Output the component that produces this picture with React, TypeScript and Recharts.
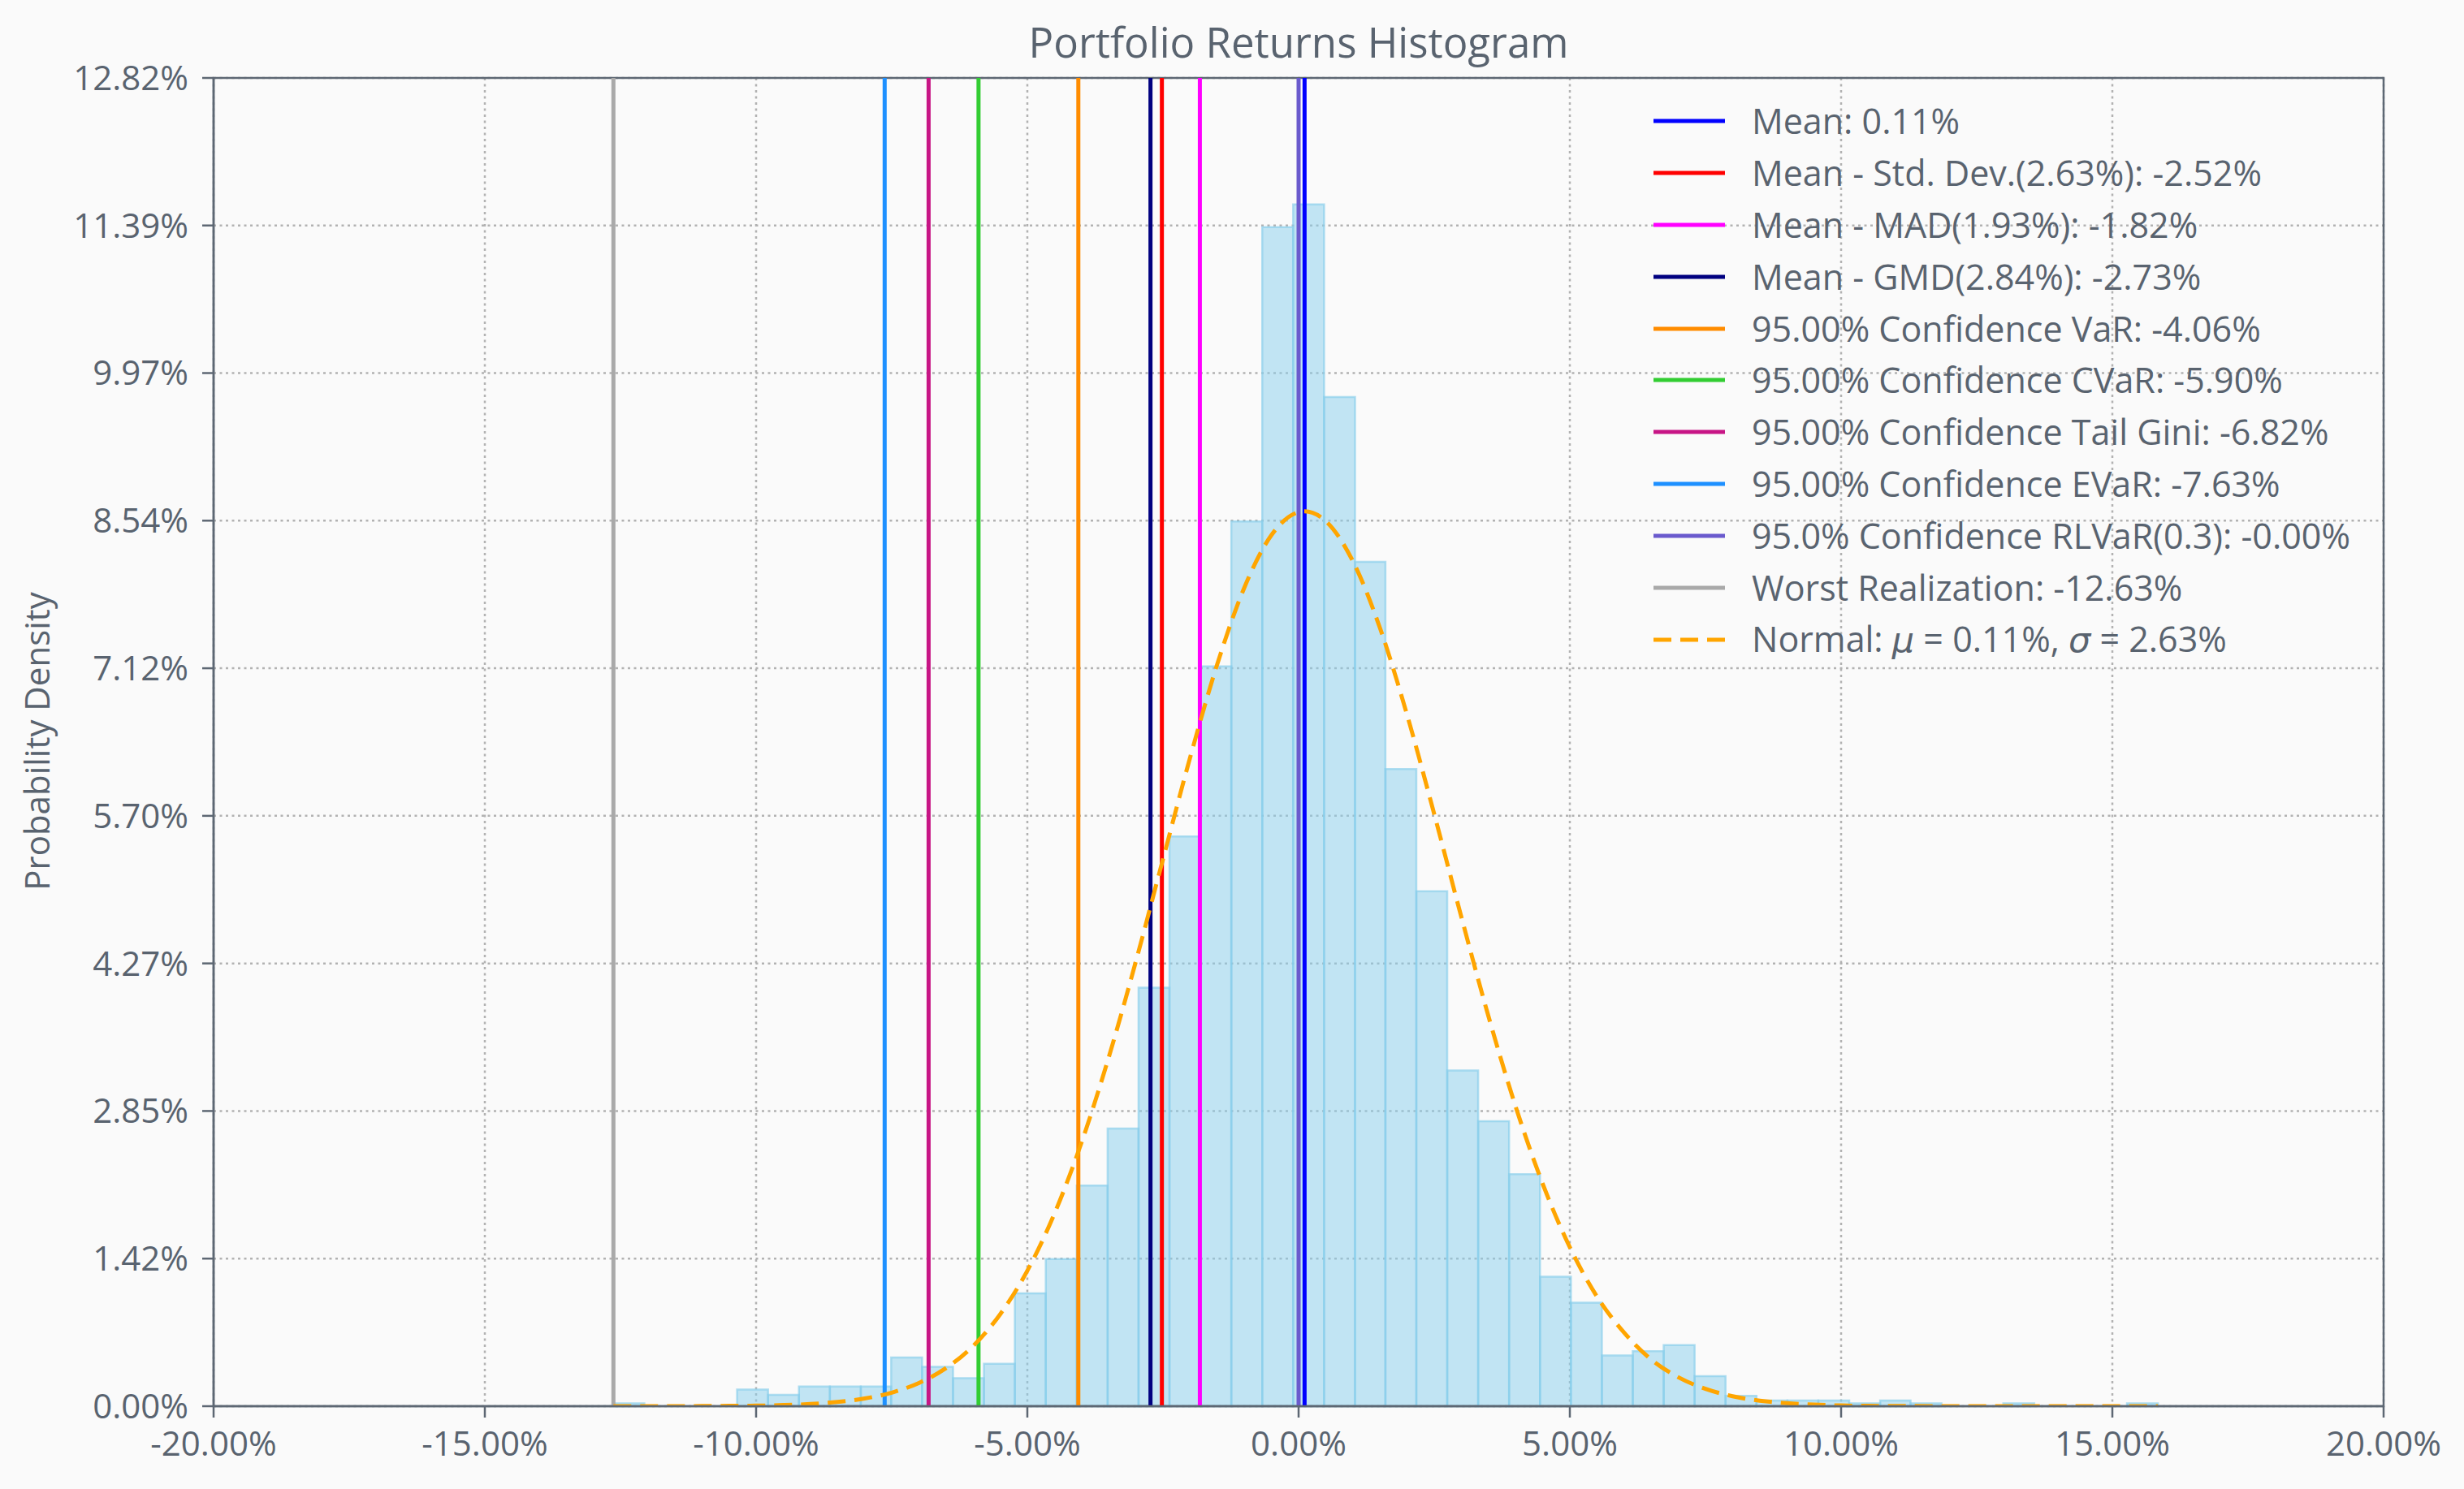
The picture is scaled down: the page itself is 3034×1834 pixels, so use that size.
import React from "react"
import {
    ComposedChart,
    Line,
    XAxis,
    YAxis,
    CartesianGrid,
    ReferenceArea,
    ReferenceLine,
    Legend,
} from "recharts"

const W = 3034
const H = 1834
const FONT = '"Open Sans", sans-serif'
const TEXT = "#59636f"
const SPINE = "#5d6773"
const GRID = "#b2b2b2"

// histogram bins (returns, %)
const binEdges = [
    -12.63, -12.06, -11.49, -10.92, -10.35, -9.78, -9.21, -8.64, -8.07, -7.51,
    -6.94, -6.37, -5.80, -5.23, -4.66, -4.09, -3.52, -2.95, -2.38, -1.81,
    -1.24, -0.67, -0.10, 0.47, 1.04, 1.60, 2.17, 2.74, 3.31, 3.88,
    4.45, 5.02, 5.59, 6.16, 6.73, 7.30, 7.87, 8.44, 9.01, 9.58,
    10.15, 10.72, 11.28, 11.85, 12.42, 12.99, 13.56, 14.13, 14.70, 15.27,
    15.84,
]
const binHeights = [
    0.027, 0, 0, 0, 0.16, 0.11, 0.19, 0.19, 0.19, 0.47,
    0.38, 0.27, 0.41, 1.09, 1.42, 2.13, 2.68, 4.04, 5.50, 7.14,
    8.54, 11.38, 11.60, 9.74, 8.15, 6.15, 4.97, 3.24, 2.75, 2.24,
    1.25, 1.00, 0.49, 0.53, 0.59, 0.29, 0.10, 0.054, 0.054, 0.054,
    0.027, 0.054, 0.027, 0, 0, 0.027, 0, 0, 0, 0.027,
]

// fitted normal curve
const normalX = [
    -12.63, -12, -11.5, -11, -10.5, -10, -9.5, -9, -8.5, -8,
    -7.5, -7, -6.5, -6, -5.5, -5, -4.5, -4, -3.5, -3,
    -2.5, -2, -1.5, -1, -0.5, 0, 0.11, 0.5, 1, 1.5,
    2, 2.5, 3, 3.5, 4, 4.5, 5, 5.5, 6, 6.5,
    7, 7.5, 8, 8.5, 9, 9.5, 10, 10.5, 11, 12,
    13, 14, 15, 15.84,
]
const normalY = [
    0, 0, 0, 0.001, 0.003, 0.005, 0.011, 0.021, 0.041, 0.074,
    0.131, 0.224, 0.367, 0.581, 0.888, 1.308, 1.859, 2.547, 3.367, 4.292,
    5.279, 6.26, 7.161, 7.901, 8.408, 8.629, 8.637, 8.543, 8.156, 7.511,
    6.672, 5.715, 4.722, 3.763, 2.893, 2.145, 1.534, 1.058, 0.71, 0.451,
    0.279, 0.167, 0.096, 0.053, 0.029, 0.015, 0.007, 0.003, 0.002, 0,
    0, 0, 0, 0,
]

// risk measures (vertical lines)
const riskLabels = [
    "Mean: 0.11%",
    "Mean - Std. Dev.(2.63%): -2.52%",
    "Mean - MAD(1.93%): -1.82%",
    "Mean - GMD(2.84%): -2.73%",
    "95.00% Confidence VaR: -4.06%",
    "95.00% Confidence CVaR: -5.90%",
    "95.00% Confidence Tail Gini: -6.82%",
    "95.00% Confidence EVaR: -7.63%",
    "95.0% Confidence RLVaR(0.3): -0.00%",
    "Worst Realization: -12.63%",
]
const riskValues = [0.11, -2.52, -1.82, -2.73, -4.06, -5.90, -6.82, -7.63, -0.0, -12.63]
const normalLabel = "Normal: μ = 0.11%, σ = 2.63%"

const xTicks = [-20, -15, -10, -5, 0, 5, 10, 15, 20]
const xTickLabels = ["-20.00%", "-15.00%", "-10.00%", "-5.00%", "0.00%", "5.00%", "10.00%", "15.00%", "20.00%"]
const yTicks = [0, 1.4245, 2.849, 4.2735, 5.698, 7.1225, 8.547, 9.9715, 11.396, 12.82]
const yTickLabels = ["0.00%", "1.42%", "2.85%", "4.27%", "5.70%", "7.12%", "8.54%", "9.97%", "11.39%", "12.82%"]

const RISK_COLORS = [
    "#0000ff", "#ff0000", "#ff00ff", "#000080", "#ff8c00",
    "#32cd32", "#c71585", "#1e90ff", "#6a5acd", "#a9a9a9",
]
const NORMAL_COLOR = "#ffa500"
const HIST_COLOR = "#87ceeb"

const normalData = normalX.map((x, i) => ({ x, y: normalY[i] }))

// italic math symbols in the legend text
const renderLabel = (label: string) =>
    label.split(/([μσ])/).map((part, i) =>
        part === "μ" || part === "σ" ? (
            <i key={i} style={{ fontFamily: '"DejaVu Sans", sans-serif' }}>{part}</i>
        ) : (
            <span key={i}>{part}</span>
        )
    )

const LegendBox = () => {
    const rows = [
        ...riskLabels.map((label, i) => ({ label, color: RISK_COLORS[i], dash: undefined as string | undefined })),
        { label: normalLabel, color: NORMAL_COLOR, dash: "22 11" },
    ]
    return (
        <div style={{ fontFamily: FONT, fontSize: 43, color: TEXT }}>
            {rows.map((row, i) => (
                <div key={i} style={{ display: "flex", alignItems: "center", height: 63.9 }}>
                    <svg width={88} height={10} style={{ marginRight: 33, flex: "none" }}>
                        <line x1={0} y1={5} x2={88} y2={5} stroke={row.color} strokeWidth={5} strokeDasharray={row.dash} />
                    </svg>
                    <span style={{ lineHeight: "63.9px", whiteSpace: "nowrap" }}>{renderLabel(row.label)}</span>
                </div>
            ))}
        </div>
    )
}

export default function App() {
    const tickStyle = { fill: TEXT, fontSize: 42, fontFamily: FONT }
    return (
        <div style={{ position: "fixed", left: 0, top: 0, width: W, height: H, background: "#fafafa", fontFamily: FONT }}>
            <ComposedChart width={W} height={H} margin={{ top: 96, right: 99, bottom: 0, left: 63 }}>
                {/* histogram */}
                {binHeights.map((h, i) =>
                    h > 0 ? (
                        <ReferenceArea
                            key={`bin-${i}`}
                            x1={binEdges[i]}
                            x2={binEdges[i + 1]}
                            y1={0}
                            y2={h}
                            fill={HIST_COLOR}
                            fillOpacity={0.5}
                            stroke={HIST_COLOR}
                            strokeOpacity={0.65}
                            strokeWidth={2.5}
                        />
                    ) : null
                )}
                <CartesianGrid stroke={GRID} strokeDasharray="3 4.5" strokeWidth={2.5} />
                <XAxis
                    dataKey="x"
                    type="number"
                    domain={[-20, 20]}
                    ticks={xTicks}
                    interval={0}
                    allowDataOverflow
                    tickFormatter={(v) => xTickLabels[xTicks.indexOf(v)]}
                    height={102}
                    tickSize={14}
                    tickMargin={17}
                    tick={tickStyle}
                    axisLine={{ stroke: SPINE, strokeWidth: 2.5 }}
                    tickLine={{ stroke: SPINE, strokeWidth: 2.5 }}
                />
                <YAxis
                    type="number"
                    domain={[0, 12.82]}
                    ticks={yTicks}
                    interval={0}
                    allowDataOverflow
                    tickFormatter={(v) => yTickLabels[yTicks.indexOf(v)]}
                    width={200}
                    tickSize={14}
                    tickMargin={17}
                    tick={tickStyle}
                    axisLine={{ stroke: SPINE, strokeWidth: 2.5 }}
                    tickLine={{ stroke: SPINE, strokeWidth: 2.5 }}
                />
                {riskValues.map((v, i) => (
                    <ReferenceLine key={`risk-${i}`} x={v} stroke={RISK_COLORS[i]} strokeWidth={5} />
                ))}
                <Line
                    data={normalData}
                    dataKey="y"
                    type="monotone"
                    stroke={NORMAL_COLOR}
                    strokeWidth={5}
                    strokeDasharray="22 11"
                    dot={false}
                    activeDot={false}
                    isAnimationActive={false}
                />
                {/* axes box */}
                <ReferenceArea x1={-20} x2={20} y1={0} y2={12.82} fill="none" stroke={SPINE} strokeWidth={2.5} />
                <Legend
                    content={<LegendBox />}
                    layout="horizontal"
                    verticalAlign="middle"
                    align="center"
                    wrapperStyle={{ left: 2036, top: 117, width: 890 }}
                />
            </ComposedChart>
            <svg width={W} height={H} style={{ position: "absolute", left: 0, top: 0, pointerEvents: "none" }}>
                <text x={1599} y={71} textAnchor="middle" fontSize={51} fill={TEXT} fontFamily={FONT}>
                    Portfolio Returns Histogram
                </text>
                <text
                    x={61}
                    y={913}
                    transform="rotate(-90 61 913)"
                    textAnchor="middle"
                    fontSize={42}
                    fill={TEXT}
                    fontFamily={FONT}
                >
                    Probability Density
                </text>
            </svg>
        </div>
    )
}
